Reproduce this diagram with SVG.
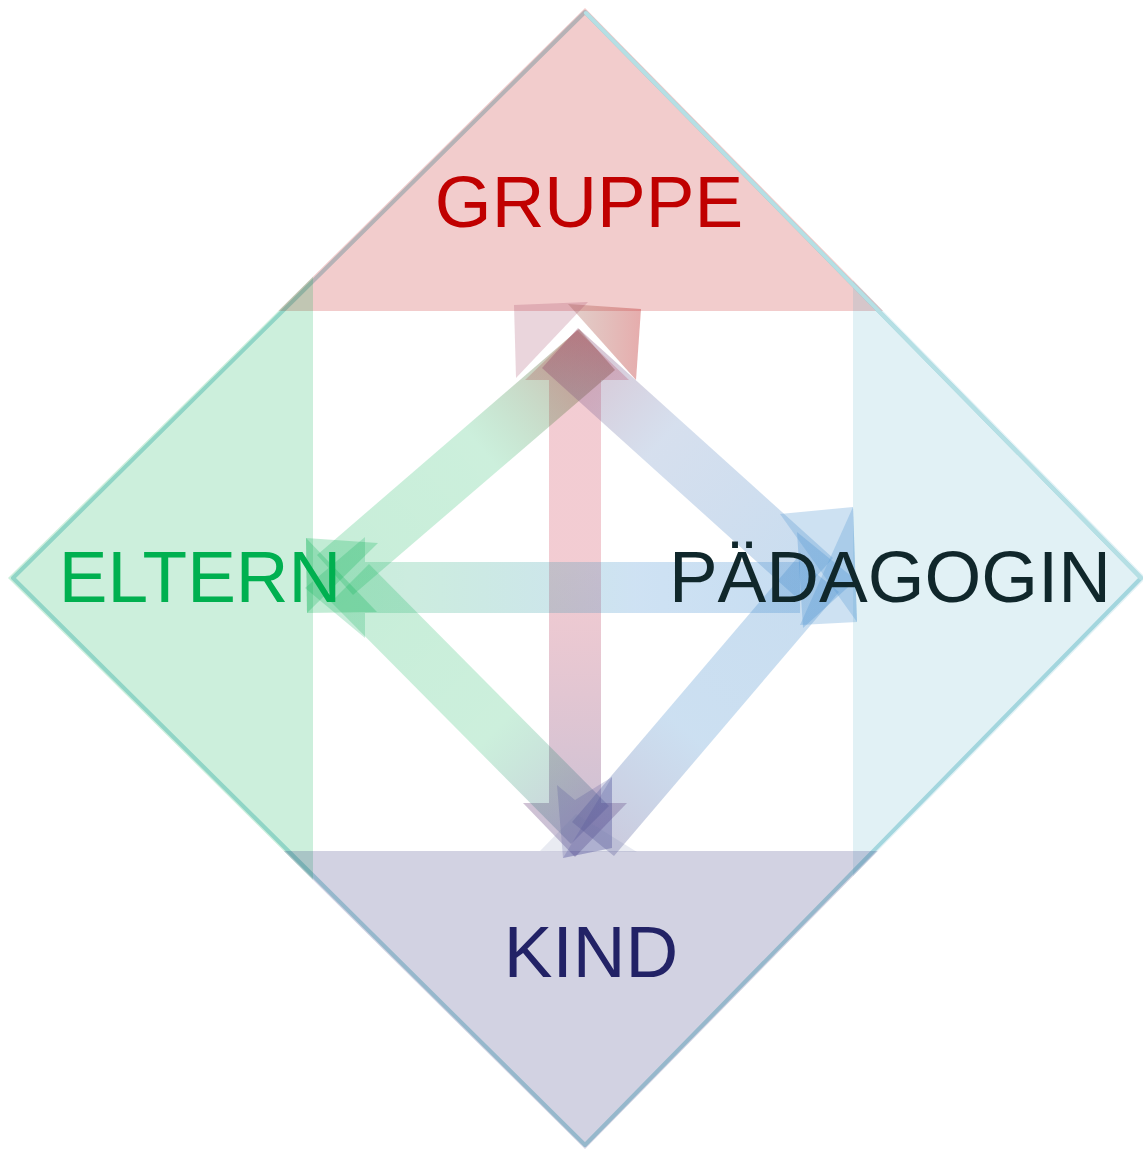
<svg xmlns="http://www.w3.org/2000/svg" width="1143" height="1151" viewBox="0 0 1143 1151">
<style>
.lbl{font-family:"Liberation Sans",Arial,sans-serif;font-size:73px;text-anchor:middle}
.edge{fill:none;stroke:#b5dfe4;stroke-width:4;stroke-linejoin:round;stroke-linecap:round}
</style>
<defs>
<clipPath id="dia"><path d="M585,8 L1146,578 L585,1149 L8,578 Z"/></clipPath>
<linearGradient id="gV" gradientUnits="userSpaceOnUse" x1="0" y1="330" x2="0" y2="857">
<stop offset="0" stop-color="#c00020" stop-opacity="0.2"/>
<stop offset="0.45" stop-color="#c00020" stop-opacity="0.2"/>
<stop offset="1" stop-color="#403078" stop-opacity="0.3"/>
</linearGradient>
<linearGradient id="gH" gradientUnits="userSpaceOnUse" x1="305" y1="0" x2="856" y2="0">
<stop offset="0" stop-color="#00b050" stop-opacity="0.22"/>
<stop offset="0.2" stop-color="#00a060" stop-opacity="0.2"/>
<stop offset="0.6" stop-color="#3c8ad0" stop-opacity="0.25"/>
<stop offset="1" stop-color="#3c8ad0" stop-opacity="0.3"/>
</linearGradient>
<linearGradient id="gGU" gradientUnits="userSpaceOnUse" x1="335" y1="575" x2="600" y2="345">
<stop offset="0" stop-color="#00b050" stop-opacity="0.22"/>
<stop offset="0.55" stop-color="#00b050" stop-opacity="0.2"/>
<stop offset="1" stop-color="#8a3a20" stop-opacity="0.38"/>
</linearGradient>
<linearGradient id="gBU" gradientUnits="userSpaceOnUse" x1="560" y1="348" x2="815" y2="578">
<stop offset="0" stop-color="#8a3a62" stop-opacity="0.32"/>
<stop offset="0.4" stop-color="#5a80bb" stop-opacity="0.25"/>
<stop offset="1" stop-color="#488ecd" stop-opacity="0.3"/>
</linearGradient>
<linearGradient id="gGL" gradientUnits="userSpaceOnUse" x1="350" y1="583" x2="592" y2="825">
<stop offset="0" stop-color="#00b050" stop-opacity="0.22"/>
<stop offset="0.6" stop-color="#00b050" stop-opacity="0.2"/>
<stop offset="1" stop-color="#505090" stop-opacity="0.3"/>
</linearGradient>
<linearGradient id="gBL" gradientUnits="userSpaceOnUse" x1="818" y1="575" x2="598" y2="835">
<stop offset="0" stop-color="#488ecd" stop-opacity="0.3"/>
<stop offset="0.6" stop-color="#488ecd" stop-opacity="0.28"/>
<stop offset="1" stop-color="#505090" stop-opacity="0.3"/>
</linearGradient>
<linearGradient id="gT2" gradientUnits="userSpaceOnUse" x1="568" y1="0" x2="641" y2="0">
<stop offset="0" stop-color="#a06050" stop-opacity="0.3"/>
<stop offset="1" stop-color="#c03030" stop-opacity="0.4"/>
</linearGradient>
</defs>

<g id="frame">
<path class="edge" d="M585,12 L1141,578 L585,1145 L13,578 Z"/>
</g>

<g id="regions" clip-path="url(#dia)">
<rect id="region-gruppe" x="0" y="0" width="1143" height="311" fill="#c00000" fill-opacity="0.2"/>
<rect id="region-eltern" x="0" y="0" width="313" height="1151" fill="#00b050" fill-opacity="0.2"/>
<rect id="region-paedagogin" x="853" y="0" width="290" height="1151" fill="#4bacc6" fill-opacity="0.17"/>
<rect id="region-kind" x="0" y="851" width="1143" height="300" fill="#20206e" fill-opacity="0.2"/>
</g>
<path class="edge" d="M586,13 L1141,578"/>

<g id="connectors">
<g id="arrow-gruppe-kind" fill="url(#gV)">
<rect x="549" y="380" width="52" height="423"/>
<polygon points="577,330 525,380 629,380"/>
<polygon points="523,803 627,803 575,857"/>
</g>
<g id="arrow-eltern-paedagogin" fill="url(#gH)">
<rect x="365" y="562" width="435" height="51"/>
<polygon points="305,588 365,537 365,638"/>
<polygon points="856,580 797,532 803,628"/>
</g>
<g id="arrow-eltern-gruppe">
<polygon points="317,555 579,329 615,370 353,595" fill="url(#gGU)"/>
<polygon points="568,304 641,309 636,380" fill="url(#gT2)"/>
<polygon points="307,613 306,538 377,612" fill="#00b050" fill-opacity="0.24"/>
</g>
<g id="arrow-gruppe-paedagogin">
<polygon points="578,328 833,558 797,598 542,368" fill="url(#gBU)"/>
<polygon points="514,305 588,302 516,378" fill="#a04060" fill-opacity="0.22"/>
<polygon points="857,622 800,625 853,507" fill="#5b9bd5" fill-opacity="0.3"/>
</g>
<g id="arrow-eltern-kind">
<polygon points="369,564 609,806 571,844 331,602" fill="url(#gGL)"/>
<polygon points="306,538 378,543 307,613" fill="#00b050" fill-opacity="0.24"/>
<polygon points="612,848 612,777 563,858" fill="#404090" fill-opacity="0.2"/>
</g>
<g id="arrow-paedagogin-kind">
<polygon points="797,558 839,592 614,856 572,822" fill="url(#gBL)"/>
<polygon points="853,507 780,514 857,622" fill="#5b9bd5" fill-opacity="0.3"/>
<polygon points="563,858 557,785 575,800 612,777 612,848" fill="#404090" fill-opacity="0.2"/>
<polygon points="540,851 576,814 637,852" fill="#6a7aa8" fill-opacity="0.15"/>
</g>
</g>

<g id="node-gruppe"><text class="lbl" x="589" y="227" fill="#c00000">GRUPPE</text></g>
<g id="node-eltern"><text class="lbl" x="200" y="602" fill="#00b050">ELTERN</text></g>
<g id="node-paedagogin"><text class="lbl" x="890" y="602" fill="#10272b">PÄDAGOGIN</text></g>
<g id="node-kind"><text class="lbl" x="591" y="977" fill="#222266">KIND</text></g>
</svg>
